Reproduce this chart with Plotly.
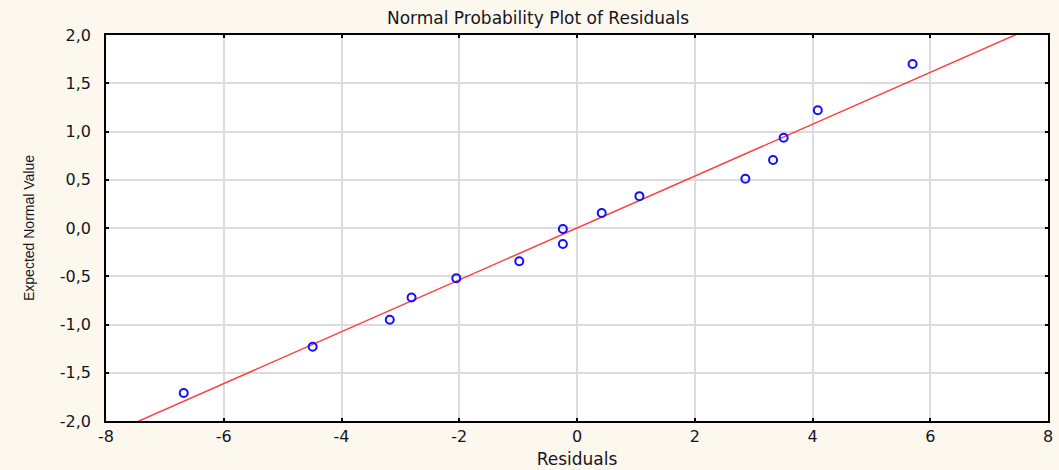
import plotly.graph_objects as go

# Residuals (x) and expected normal values (y)
residuals = [-6.68, -4.49, -3.18, -2.81, -2.05, -0.98, -0.24, -0.24, 0.42, 1.06, 2.86, 3.33, 3.51, 4.09, 5.70]
expected = [-1.71, -1.23, -0.95, -0.72, -0.52, -0.345, -0.165, -0.01, 0.155, 0.33, 0.51, 0.705, 0.935, 1.22, 1.70]

# Reference (fitted) line
line_slope = 0.2688
line_intercept = 0.0
line_x = [-8, 8]
line_y = [line_intercept + line_slope * v for v in line_x]

x_ticks = [-8, -6, -4, -2, 0, 2, 4, 6, 8]
y_ticks = [-2.0, -1.5, -1.0, -0.5, 0.0, 0.5, 1.0, 1.5, 2.0]
x_labels = ["-8", "-6", "-4", "-2", "0", "2", "4", "6", "8"]
y_labels = ["-2,0", "-1,5", "-1,0", "-0,5", "0,0", "0,5", "1,0", "1,5", "2,0"]

cream = "#FDF8EE"
font_wide = "DejaVu Sans, Liberation Sans, Arial, sans-serif"
font_main = "Liberation Sans, Arial, sans-serif"
text_col = "#15151f"

fig = go.Figure()
fig.add_trace(go.Scatter(
    x=line_x, y=line_y, mode="lines",
    line=dict(color="#FF4040", width=1.5),
    hoverinfo="skip", showlegend=False,
))
fig.add_trace(go.Scatter(
    x=residuals, y=expected, mode="markers",
    marker=dict(symbol="circle-open", size=8, color="#1010FF", line=dict(width=2, color="#1010FF")),
    showlegend=False, cliponaxis=False,
))

fig.update_layout(
    width=1059, height=470,
    margin=dict(l=106, r=11, t=35, b=49),
    paper_bgcolor=cream,
    plot_bgcolor="white",
    font=dict(family=font_wide, size=15, color=text_col),
    title=dict(
        text="Normal Probability Plot of Residuals",
        x=538 / 1059, xref="container", xanchor="center",
        y=1 - 18 / 470, yref="container", yanchor="middle",
        font=dict(family=font_wide, size=17, color=text_col),
    ),
)

fig.update_xaxes(
    range=[-8, 8], tickvals=x_ticks, ticktext=x_labels,
    automargin=False,
    showgrid=True, gridcolor="#DCDCDC", gridwidth=1.5,
    zeroline=False,
    showline=True, linecolor="black", linewidth=1.5, mirror="ticks",
    ticks="inside", ticklen=3, tickcolor="black", tickwidth=1.5,
    tickfont=dict(family=font_wide, size=16, color=text_col),
    title=dict(text="Residuals", standoff=8, font=dict(family=font_wide, size=17, color=text_col)),
)
fig.update_yaxes(
    range=[-2, 2], tickvals=y_ticks, ticktext=y_labels,
    automargin=False,
    showgrid=True, gridcolor="#DCDCDC", gridwidth=1.5,
    zeroline=False,
    showline=True, linecolor="black", linewidth=1.5, mirror="ticks",
    ticks="inside", ticklen=3, tickcolor="black", tickwidth=1.5,
    ticklabelstandoff=10,
    tickfont=dict(family=font_wide, size=16, color=text_col),
    title=dict(text="Expected Normal Value", standoff=22,
               font=dict(family=font_main, size=14, color=text_col)),
)

fig.write_html("out.html")
